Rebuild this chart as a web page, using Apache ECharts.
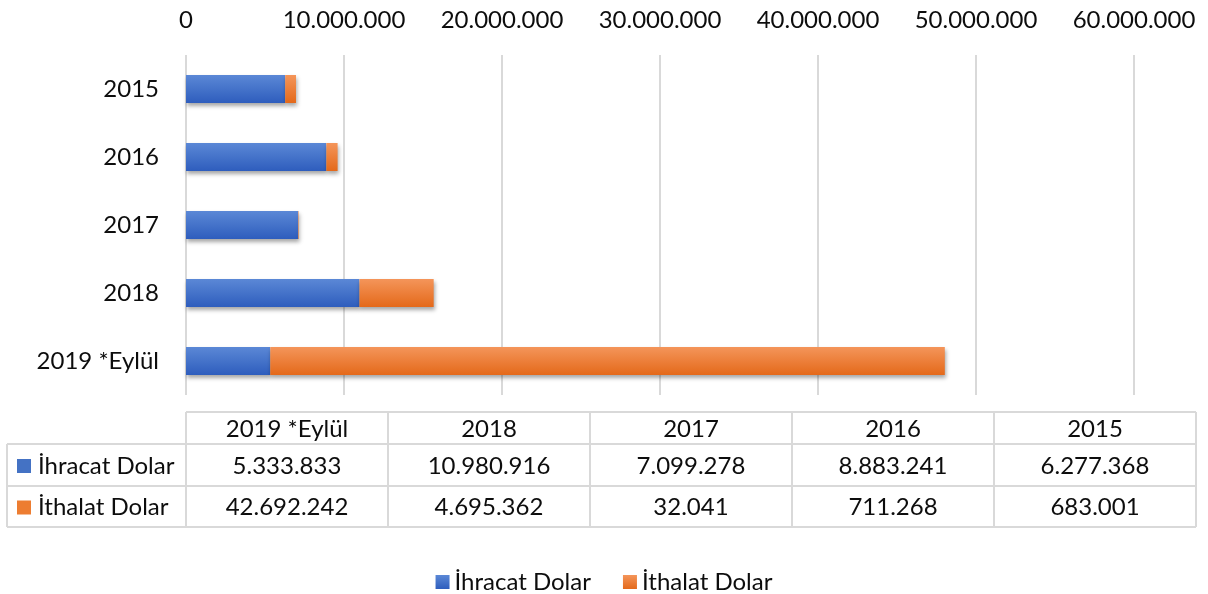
<!DOCTYPE html>
<html><head><meta charset="utf-8">
<script src="https://cdn.jsdelivr.net/npm/echarts@6/dist/echarts.min.js"></script>
<style>html,body{margin:0;padding:0;background:#fff}#c{width:1208px;height:594px}</style>
</head><body><div id="c"></div>
<script>
const categories = ['2019 *Eylül', '2018', '2017', '2016', '2015'];
const seriesNames = ['İhracat Dolar', 'İthalat Dolar'];
const ihracat = [5333833, 10980916, 7099278, 8883241, 6277368];
const ithalat = [42692242, 4695362, 32041, 711268, 683001];
const xMin = 0, xMax = 60000000, xStep = 10000000;

const FONT = 'Lato';
const FS = 24;
const TXT = '#0d0d0d';
const GRID = '#d9d9d9';
function fmt(v) { return String(v).replace(/\B(?=(\d{3})+(?!\d))/g, '.'); }

const blue = new echarts.graphic.LinearGradient(0, 0, 0, 1, [
  { offset: 0, color: '#5b88d6' }, { offset: 1, color: '#2e5dbd' }]);
const orange = new echarts.graphic.LinearGradient(0, 0, 0, 1, [
  { offset: 0, color: '#f4955a' }, { offset: 1, color: '#e4691a' }]);
const legBlue = '#4472c4', legOrange = '#ed7d31';

// data table graphic built from arrays
const colX = [186, 388, 590, 792, 994, 1196];
const rowY = [412, 444, 486, 527];
const leftX = 7;
const g = [];
function line(x1, y1, x2, y2) {
  g.push({ type: 'line', shape: { x1, y1, x2, y2 }, style: { stroke: GRID, lineWidth: 2 }, silent: true });
}
line(colX[0], rowY[0], colX[5], rowY[0]);
for (let i = 1; i < rowY.length; i++) line(leftX, rowY[i], colX[5], rowY[i]);
line(leftX, rowY[1], leftX, rowY[3]);
for (let i = 0; i < colX.length; i++) line(colX[i], rowY[0], colX[i], rowY[3]);
function text(x, y, s, align) {
  g.push({ type: 'text', x, y, style: { text: s, fill: TXT, font: FS + 'px ' + FONT, textAlign: align || 'center', textVerticalAlign: 'middle' }, silent: true });
}
for (let j = 0; j < categories.length; j++) text((colX[j] + colX[j + 1]) / 2, (rowY[0] + rowY[1]) / 2 + 1, categories[j]);
const rows = [ihracat, ithalat];
const keyCol = [legBlue, legOrange];
for (let r = 0; r < 2; r++) {
  const cy = (rowY[r + 1] + rowY[r + 2]) / 2 + 1;
  g.push({ type: 'rect', shape: { x: 17, y: cy - 7, width: 14, height: 14 }, style: { fill: keyCol[r] }, silent: true });
  text(38, cy, seriesNames[r], 'left');
  for (let j = 0; j < categories.length; j++) text((colX[j] + colX[j + 1]) / 2, cy, fmt(rows[r][j]));
}

const chart = echarts.init(document.getElementById('c'), null, { renderer: 'canvas' });
const shadow = { shadowColor: 'rgba(0,0,0,0.35)', shadowBlur: 4, shadowOffsetX: 1, shadowOffsetY: 3 };
chart.setOption({
  animation: false,
  backgroundColor: '#fff',
  textStyle: { fontFamily: FONT },
  grid: { left: 186, right: 74, top: 55, height: 340, containLabel: false },
  xAxis: {
    type: 'value', position: 'top', min: xMin, max: xMax, interval: xStep,
    axisLine: { show: false }, axisTick: { show: false },
    splitLine: { show: true, lineStyle: { color: GRID, width: 2 } },
    axisLabel: { formatter: v => fmt(v), fontSize: FS, color: TXT, fontFamily: FONT, margin: 23 }
  },
  yAxis: {
    type: 'category', data: categories,
    axisLine: { show: false }, axisTick: { show: false },
    axisLabel: { fontSize: FS, color: TXT, fontFamily: FONT, margin: 27 }
  },
  legend: {
    data: seriesNames, top: 565, left: 'center', itemWidth: 14, itemHeight: 14, itemGap: 32,
    icon: 'rect',
    textStyle: { fontSize: FS, color: TXT, fontFamily: FONT }
  },
  series: [
    { name: seriesNames[0], type: 'bar', stack: 't', data: ihracat, barWidth: 28,
      itemStyle: Object.assign({ color: blue }, shadow), color: legBlue },
    { name: seriesNames[1], type: 'bar', stack: 't', data: ithalat, barWidth: 28,
      itemStyle: Object.assign({ color: orange }, shadow), color: legOrange }
  ],
  graphic: g
});
</script></body></html>
